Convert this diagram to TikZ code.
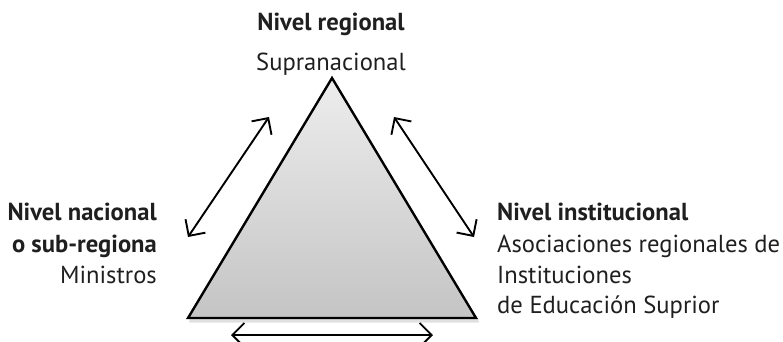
\documentclass[tikz,border=0pt]{standalone}
\usepackage{fontspec}
\setmainfont{PT Sans}
\usetikzlibrary{arrows.meta}
\tikzset{
  lbl/.style={inner sep=0pt, font=\fontsize{24.6bp}{30bp}\selectfont, text=black!88},
  lblb/.style={lbl, font=\fontsize{24.6bp}{30bp}\selectfont\bfseries},
  rel/.style={line width=1.9bp, {Straight Barb[length=12bp,width=24bp,line width=1.9bp]}-{Straight Barb[length=12bp,width=24bp,line width=1.9bp]}},
  tri/.style={draw=black, line width=2.4bp, line join=miter, top color=black!7, bottom color=black!23}
}
\begin{document}
\begin{tikzpicture}[x=1bp,y=-1bp]
\useasboundingbox (0,0) rectangle (783,341);
% shadow
\fill[black, opacity=0.12] (190,318) -- (478,318) -- (479,322.5) -- (189,322.5) -- cycle;
% triangle
\coordinate (apex) at (332,78);
\coordinate (bl) at (188,318);
\coordinate (br) at (476,318);
\path[tri] (apex) -- (br) -- (bl) -- cycle;
% arrows
\coordinate (l1) at (188,237);
\coordinate (l2) at (269,117);
\coordinate (r1) at (394,117);
\coordinate (r2) at (474,237);
\coordinate (b1) at (231,335);
\coordinate (b2) at (433,335);
\draw[rel] (l1) -- (l2);
\draw[rel] (r1) -- (r2);
\draw[rel] (b1) -- (b2);
% top text
\node[lblb, anchor=base] (t1) at (331,30) {Nivel regional};
\node[lbl, anchor=base] (t2) at (331,70) {Supranacional};
% left text
\node[lblb, anchor=base east] (l1t) at (157,220) {Nivel nacional};
\node[lblb, anchor=base east] (l2t) at (157,252) {o sub-regiona};
\node[lbl, anchor=base east] (l3t) at (157,283) {Ministros};
% right text
\node[lblb, anchor=base west] (r1t) at (497,220) {Nivel institucional};
\node[lbl, anchor=base west] (r2t) at (497,252) {\hbox to 283bp{Asociaciones\hfill regionales\hfill de}};
\node[lbl, anchor=base west] (r3t) at (497,283) {Instituciones};
\node[lbl, anchor=base west] (r4t) at (497,313) {de Educación Suprior};
\end{tikzpicture}
\end{document}
